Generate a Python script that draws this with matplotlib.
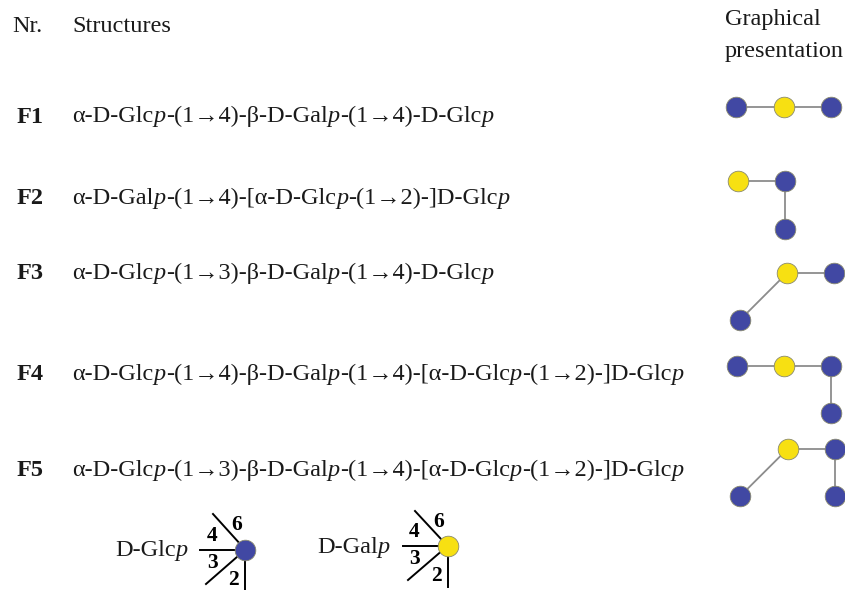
import matplotlib
matplotlib.use('Agg')
import matplotlib.pyplot as plt

plt.rcParams['font.family'] = ['Liberation Serif', 'DejaVu Serif']

BLUE = '#4148a3'
YELLOW = '#f7e012'
W, H = 856, 590
SIZE = 17.5

# text pieces, the ones between bars are italic
nombres = ['F1', 'F2', 'F3', 'F4', 'F5']
y_filas = [115, 196, 271, 372, 468]
y_textos = [114, 196, 271, 372, 468]
estructuras = [
    'α-D-Glc|p|-(1→4)-β-D-Gal|p|-(1→4)-D-Glc|p',
    'α-D-Gal|p|-(1→4)-[α-D-Glc|p|-(1→2)-]D-Glc|p',
    'α-D-Glc|p|-(1→3)-β-D-Gal|p|-(1→4)-D-Glc|p',
    'α-D-Glc|p|-(1→4)-β-D-Gal|p|-(1→4)-[α-D-Glc|p|-(1→2)-]D-Glc|p',
    'α-D-Glc|p|-(1→3)-β-D-Gal|p|-(1→4)-[α-D-Glc|p|-(1→2)-]D-Glc|p',
]

# residues of each drawing: x, y, colour
nodos = [
    [(736.3, 107.3, BLUE), (783.7, 107.3, YELLOW), (831, 107.3, BLUE)],
    [(737.5, 181.3, YELLOW), (785, 181.3, BLUE), (785, 229, BLUE)],
    [(787, 273, YELLOW), (834, 273, BLUE), (739.7, 320.3, BLUE)],
    [(736.7, 366, BLUE), (784, 366, YELLOW), (831.3, 366, BLUE), (831.3, 413.3, BLUE)],
    [(787.5, 449, YELLOW), (834.5, 449, BLUE), (740, 496.3, BLUE), (834.5, 496.3, BLUE)],
]
enlaces = [
    [(0, 1), (1, 2)],
    [(0, 1), (1, 2)],
    [(0, 1), (0, 2)],
    [(0, 1), (1, 2), (2, 3)],
    [(0, 1), (1, 3), (0, 2)],
]

# key at the bottom
clave_nombres = ['D-Glc|p', 'D-Gal|p']
clave_x_texto = [115, 317]
clave_y_texto = [548, 545]
clave_centros = [(245.3, 549.7, BLUE), (447.5, 546, YELLOW)]
clave_lineas = [
    [(200, 549.7), (213, 514), (206, 584), (245.3, 590)],
    [(402.5, 546), (415, 511), (408, 580), (447.5, 587)],
]
clave_numeros = ['4', '6', '3', '2']
clave_pos_numeros = [
    [(212, 536), (237, 525), (213, 563), (233, 580)],
    [(414, 532), (439, 522), (415, 559), (436, 576)],
]

# the source image is cut at x=844, so the axes stop there too
fig = plt.figure(figsize=(W / 100, H / 100), dpi=100)
ax = fig.add_axes([0, 0, 844 / W, 1])
ax.set_xlim(0, 844)
ax.set_ylim(H, 0)
ax.axis('off')


def texto_mixto(x, y, cadena, size=SIZE):
    renderer = fig.canvas.get_renderer()
    for i, parte in enumerate(cadena.split('|')):
        if not parte:
            continue
        t = ax.text(x, y, parte, fontsize=size, va='center_baseline', ha='left',
                    style='italic' if i % 2 else 'normal', color='#1a1a1a')
        x += t.get_window_extent(renderer).width


def circulo(x, y, color, r=10.3):
    ax.scatter([x], [y], s=(2 * r * 0.72) ** 2, c=color, edgecolors='#8a8a70',
               linewidths=0.6, zorder=3)


ax.text(12.5, 27, 'Nr.', fontsize=SIZE, va='center', color='#1a1a1a')
ax.text(72.5, 27, 'Structures', fontsize=SIZE, va='center', color='#1a1a1a')
ax.text(725, 19, 'Graphical', fontsize=SIZE, va='center', color='#1a1a1a')
ax.text(725, 51, 'presentation', fontsize=SIZE, va='center', color='#1a1a1a')

for nombre, y, y_texto, estructura in zip(nombres, y_filas, y_textos, estructuras):
    ax.text(17, y, nombre, fontsize=SIZE, fontweight='bold', va='center_baseline', color='#1a1a1a')
    texto_mixto(72.5, y_texto, estructura)

for puntos, pares in zip(nodos, enlaces):
    for a, b in pares:
        ax.plot([puntos[a][0], puntos[b][0]], [puntos[a][1], puntos[b][1]],
                color='#8c8c8c', lw=1.3, zorder=1)
    for x, y, color in puntos:
        circulo(x, y, color)

for j in range(2):
    texto_mixto(clave_x_texto[j], clave_y_texto[j], clave_nombres[j])
    cx, cy, color = clave_centros[j]
    for lx, ly in clave_lineas[j]:
        ax.plot([lx, cx], [ly, cy], color='black', lw=1.4, zorder=1)
    circulo(cx, cy, color)
    for num, (nx, ny) in zip(clave_numeros, clave_pos_numeros[j]):
        ax.text(nx, ny, num, fontsize=15.5, fontweight='bold', ha='center', va='center')

fig.savefig('out.png', dpi=100)
